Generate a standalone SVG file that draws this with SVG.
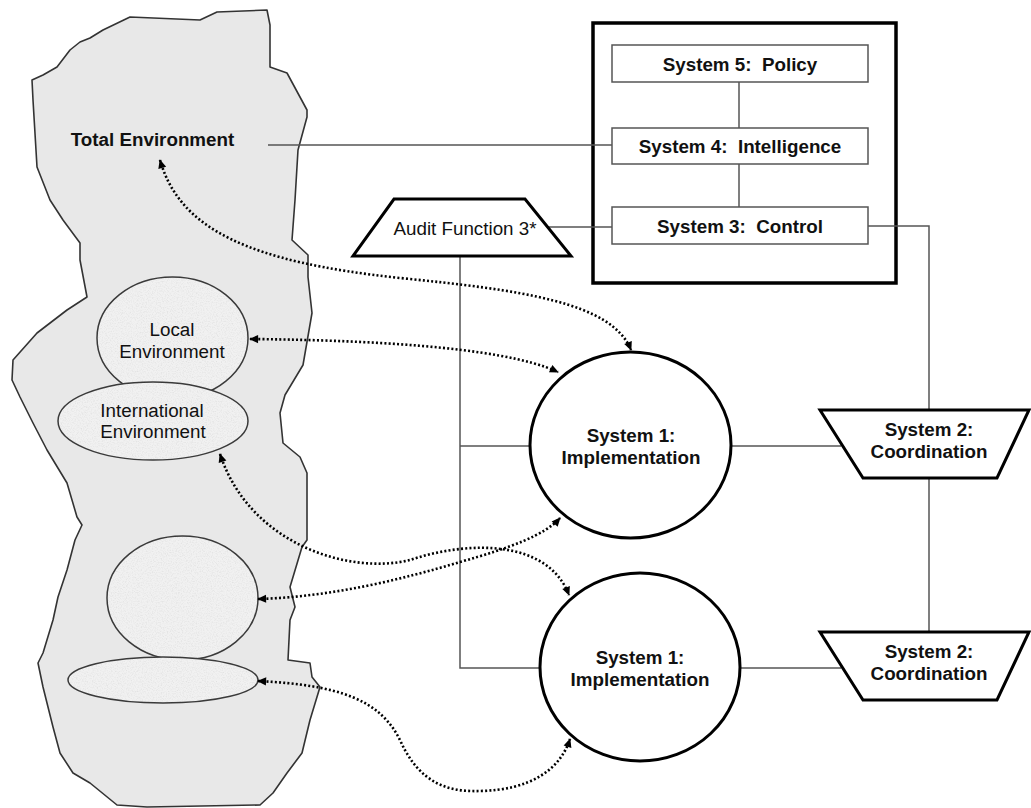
<svg xmlns="http://www.w3.org/2000/svg" width="1031" height="808" viewBox="0 0 1031 808">
  <defs>
    <style>
      text { font-family: "Liberation Sans", Arial, sans-serif; font-size: 18.8px; fill: #111; }
      .b { font-weight: bold; }
      .mid { text-anchor: middle; }
      .blob { fill: #e8e8e8; stroke: #333; stroke-width: 1.6; stroke-linejoin: round; }
      .egg { fill: #f1f1f1; stroke: none; }
      .eggline { fill: none; stroke: #3a3a3a; stroke-width: 1.5; }
      .thin { fill: none; stroke: #555; stroke-width: 1.5; }
      .box { fill: #fff; stroke: #555; stroke-width: 1.5; }
      .frame { fill: #fff; stroke: #000; stroke-width: 3.5; }
      .heavy { fill: #fff; stroke: #000; stroke-width: 3; stroke-linejoin: miter; }
      .dots { fill: none; stroke: #000; stroke-width: 2.6; stroke-dasharray: 2 2.2; marker-start: url(#tip); marker-end: url(#tip); }
    </style>
    <marker id="tip" viewBox="0 0 10 10" refX="9" refY="5" markerWidth="10" markerHeight="9" markerUnits="userSpaceOnUse" orient="auto-start-reverse">
      <path d="M0,0.5 L10,5 L0,9.5 z" fill="#000"/>
    </marker>
    <filter id="grain" x="0" y="0" width="100%" height="100%">
      <feTurbulence type="fractalNoise" baseFrequency="0.8" numOctaves="2" seed="7" result="noise"/>
      <feColorMatrix in="noise" type="matrix" values="0 0 0 0 0.72  0 0 0 0 0.72  0 0 0 0 0.72  1.8 0 0 0 -0.8" result="speck"/>
      <feComposite in="speck" in2="SourceGraphic" operator="in" result="clip"/>
      <feMerge><feMergeNode in="SourceGraphic"/><feMergeNode in="clip"/></feMerge>
    </filter>
  </defs>

  <!-- environment shape -->
  <g id="total-environment">
    <path class="blob" d="M32,80 L43,75 L57,67 L70,50 L80,42 L90,38 L103,30 L130,17 L200,20 L217,12 L267,10 L270,25 L270,67 L287,73 L307,110 L307,117 L298,150 L295,200 L292,240 L308,255 L308,277 L312,313 L303,365 L285,395 L280,413 L283,443 L300,457 L307,473 L307,540 L302,547 L290,587 L295,607 L290,620 L288,660 L310,663 L312,677 L320,687 L310,720 L302,753 L287,773 L273,793 L260,805 L147,807 L117,805 L90,783 L73,773 L60,753 L53,727 L43,687 L38,663 L43,653 L53,620 L58,597 L67,570 L75,540 L82,525 L77,517 L67,483 L47,450 L33,423 L20,397 L12,380 L13,360 L37,333 L67,310 L87,297 L80,260 L80,243 L63,220 L50,200 L37,167 L33,100 Z"/>
    <text class="b mid" x="152.5" y="146">Total Environment</text>
  </g>

  <g id="local-environment">
    <ellipse class="egg" filter="url(#grain)" cx="172.5" cy="338" rx="75.5" ry="61"/>
    <ellipse class="eggline" cx="172.5" cy="338" rx="75.5" ry="61"/>
    <text class="mid" x="172" y="336">Local</text>
    <text class="mid" x="172" y="358">Environment</text>
  </g>

  <g id="international-environment">
    <ellipse class="egg" filter="url(#grain)" cx="153" cy="421" rx="95" ry="39"/>
    <ellipse class="eggline" cx="153" cy="421" rx="95" ry="39"/>
    <text class="mid" x="152" y="417">International</text>
    <text class="mid" x="153" y="438">Environment</text>
  </g>

  <g id="environment-3">
    <ellipse class="egg" filter="url(#grain)" cx="182.5" cy="598" rx="75.5" ry="62"/>
    <ellipse class="eggline" cx="182.5" cy="598" rx="75.5" ry="62"/>
  </g>

  <g id="environment-4">
    <ellipse class="egg" filter="url(#grain)" cx="163" cy="680" rx="95" ry="23"/>
    <ellipse class="eggline" cx="163" cy="680" rx="95" ry="23"/>
  </g>

  <!-- management frame -->
  <g id="management">
    <rect class="frame" x="593" y="23" width="303" height="260"/>
  </g>

  <!-- solid links -->
  <g id="connectors">
    <line class="thin" x1="268" y1="145" x2="612" y2="145"/>
    <line class="thin" x1="547" y1="227" x2="612" y2="227"/>
    <line class="thin" x1="739" y1="82" x2="739" y2="128"/>
    <line class="thin" x1="739" y1="164" x2="739" y2="207"/>
    <polyline class="thin" points="868,226 929,226 929,410"/>
    <line class="thin" x1="929" y1="478" x2="929" y2="632"/>
    <polyline class="thin" points="460,256 460,668 540,668"/>
    <line class="thin" x1="460" y1="446" x2="530" y2="446"/>
    <line class="thin" x1="731" y1="446" x2="841" y2="446"/>
    <line class="thin" x1="740" y1="668" x2="841" y2="668"/>
    <!-- dotted exchanges -->
    <path class="dots" d="M160,160 C180,230 250,262 400,278 C520,290 612,302 631,350"/>
    <path class="dots" d="M250,339 C350,340 500,345 558,372"/>
    <path class="dots" d="M220,454 C250,545 350,575 410,560 C470,540 548,540 569,595"/>
    <path class="dots" d="M258,599 C330,597 400,580 460,562 C510,548 545,535 560,518"/>
    <path class="dots" d="M258,681 C340,685 380,700 400,740 C420,785 450,792 480,791 C530,790 560,770 570,739"/>
  </g>

  <g id="system5">
    <rect class="box" x="612" y="45" width="256" height="37"/>
    <text class="b mid" x="740" y="71" xml:space="preserve">System 5:  Policy</text>
  </g>
  <g id="system4">
    <rect class="box" x="612" y="128" width="256" height="36"/>
    <text class="b mid" x="740" y="153" xml:space="preserve">System 4:  Intelligence</text>
  </g>
  <g id="system3">
    <rect class="box" x="612" y="207" width="256" height="37"/>
    <text class="b mid" x="740" y="233" xml:space="preserve">System 3:  Control</text>
  </g>

  <g id="audit">
    <polygon class="heavy" points="394,199 525,199 571,256 353,256"/>
    <text class="mid" x="465" y="235">Audit Function 3*</text>
  </g>

  <g id="system1-a">
    <ellipse class="heavy" cx="630.5" cy="445" rx="100.5" ry="93"/>
    <text class="b mid" x="631" y="442">System 1:</text>
    <text class="b mid" x="631" y="464">Implementation</text>
  </g>
  <g id="system1-b">
    <ellipse class="heavy" cx="640" cy="667" rx="100" ry="94"/>
    <text class="b mid" x="640" y="664">System 1:</text>
    <text class="b mid" x="640" y="686">Implementation</text>
  </g>

  <g id="system2-a">
    <polygon class="heavy" points="820,410 1029,410 997,478 863,478"/>
    <text class="b mid" x="929" y="436">System 2:</text>
    <text class="b mid" x="929" y="458">Coordination</text>
  </g>
  <g id="system2-b">
    <polygon class="heavy" points="820,632 1029,632 997,700 863,700"/>
    <text class="b mid" x="929" y="658">System 2:</text>
    <text class="b mid" x="929" y="680">Coordination</text>
  </g>
</svg>
